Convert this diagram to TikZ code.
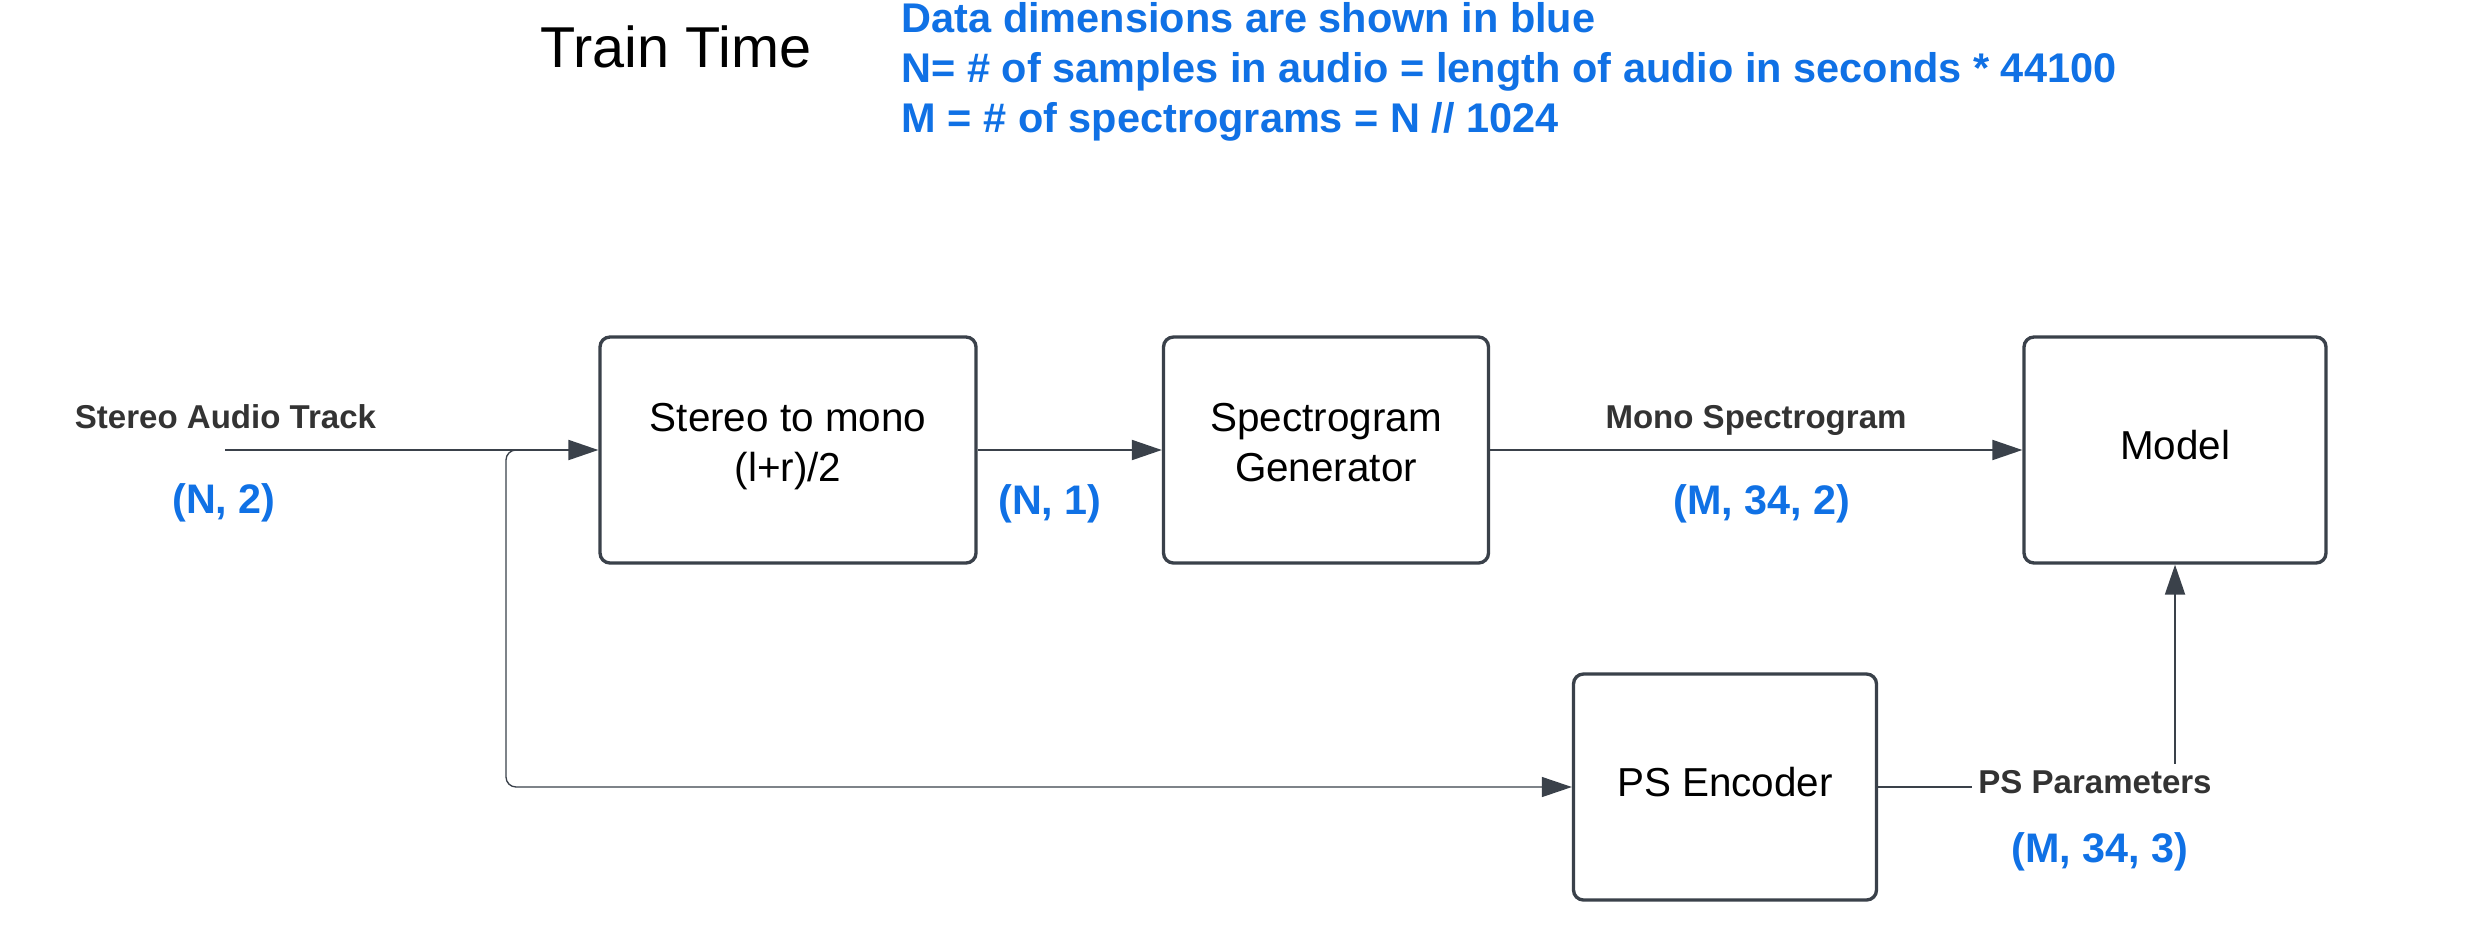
\documentclass[tikz,border=0pt]{standalone}
\usepackage{fontspec}
\setmainfont{Liberation Sans}
\usetikzlibrary{arrows.meta}
\definecolor{linegray}{HTML}{3A414A}
\definecolor{labelgray}{HTML}{333333}
\definecolor{dimblue}{HTML}{1071E5}
\newcommand{\drawlegend}[1] {
  \foreach \i/\txt in #1 {
    \node[legend, anchor=base west] (legend\i) at (9.01,{-0.33-0.495*\i}) {\txt};
  }
}
\newcommand{\drawdims}[1] {
  \foreach \id/\px/\py/\txt in #1 {
    \node[dims, anchor=base] (\id) at (\px,\py) {\txt}; % blue data dimensions
  }
}

\begin{document}
\begin{tikzpicture}[
    block/.style={draw=linegray, line width=0.95pt, rounded corners=0.1cm, fill=white,
      minimum height=2.26cm, align=center, font=\fontsize{11.5pt}{14.2pt}\selectfont,
      execute at begin node=\strut, execute at end node=\strut},
    conn/.style={draw=linegray, line width=0.57pt, -{Triangle[length=0.3cm, width=0.2cm]}},
    branch/.style={conn, line width=0.38pt, rounded corners=0.1cm},
    lbl/.style={text=labelgray, inner sep=0.6mm, font=\fontsize{9.4pt}{11pt}\selectfont\bfseries},
    dims/.style={text=dimblue, font=\fontsize{11.75pt}{14pt}\selectfont\bfseries},
    legend/.style={text=dimblue, inner sep=0pt, font=\fontsize{11.8pt}{14pt}\selectfont\bfseries}
  ]
    \fill[white] (0,0) rectangle (24.75,-9.38);
    \useasboundingbox (0,0) rectangle (24.75,-9.38);

    % title and legend
    \node[anchor=base, font=\fontsize{16.4pt}{19pt}\selectfont] (title) at (6.76,-0.67) {Train Time};
    \drawlegend{{0/{Data dimensions are shown in blue},
      1/{N= \# of samples in audio = length of audio in seconds * 44100},
      2/{M = \# of spectrograms = N // 1024}}}

    % blocks
    \node[block, minimum width=3.76cm] (stereo) at (7.88,-4.50) {Stereo to mono\\(l+r)/2};
    \node[block, minimum width=3.25cm] (spectro) at (13.26,-4.50) {Spectrogram\\Generator};
    \node[block, minimum width=3.02cm] (model) at (21.75,-4.50) {Model};
    \node[block, minimum width=3.03cm] (psenc) at (17.25,-7.87) {PS Encoder};

    % connectors
    \coordinate (in) at (2.25,-4.50);
    \coordinate (tap) at (5.30,-4.50);
    \coordinate (bend) at (5.06,-4.50);
    \draw[conn] (in) -- (stereo.west);
    \draw[branch] (tap) -- (bend) |- (psenc.west);
    \draw[conn] (stereo.east) -- (spectro.west);
    \draw[conn] (spectro.east) -- (model.west);
    \draw[conn] (psenc.east) -| (model.south);

    % labels
    \node[lbl, anchor=base] (inlabel) at (2.255,-4.28) {Stereo Audio Track};
    \node[lbl, anchor=base] (monolabel) at (17.56,-4.28) {Mono Spectrogram};
    \node[lbl, anchor=base, fill=white] (pslabel) at (20.95,-7.93) {PS Parameters};
    \drawdims{{dimin/2.24/-5.13/{(N, 2)}, dimmono/10.50/-5.14/{(N, 1)},
      dimspec/17.62/-5.14/{(M, 34, 2)}, dimps/21.00/-8.62/{(M, 34, 3)}}}
\end{tikzpicture}
\end{document}
